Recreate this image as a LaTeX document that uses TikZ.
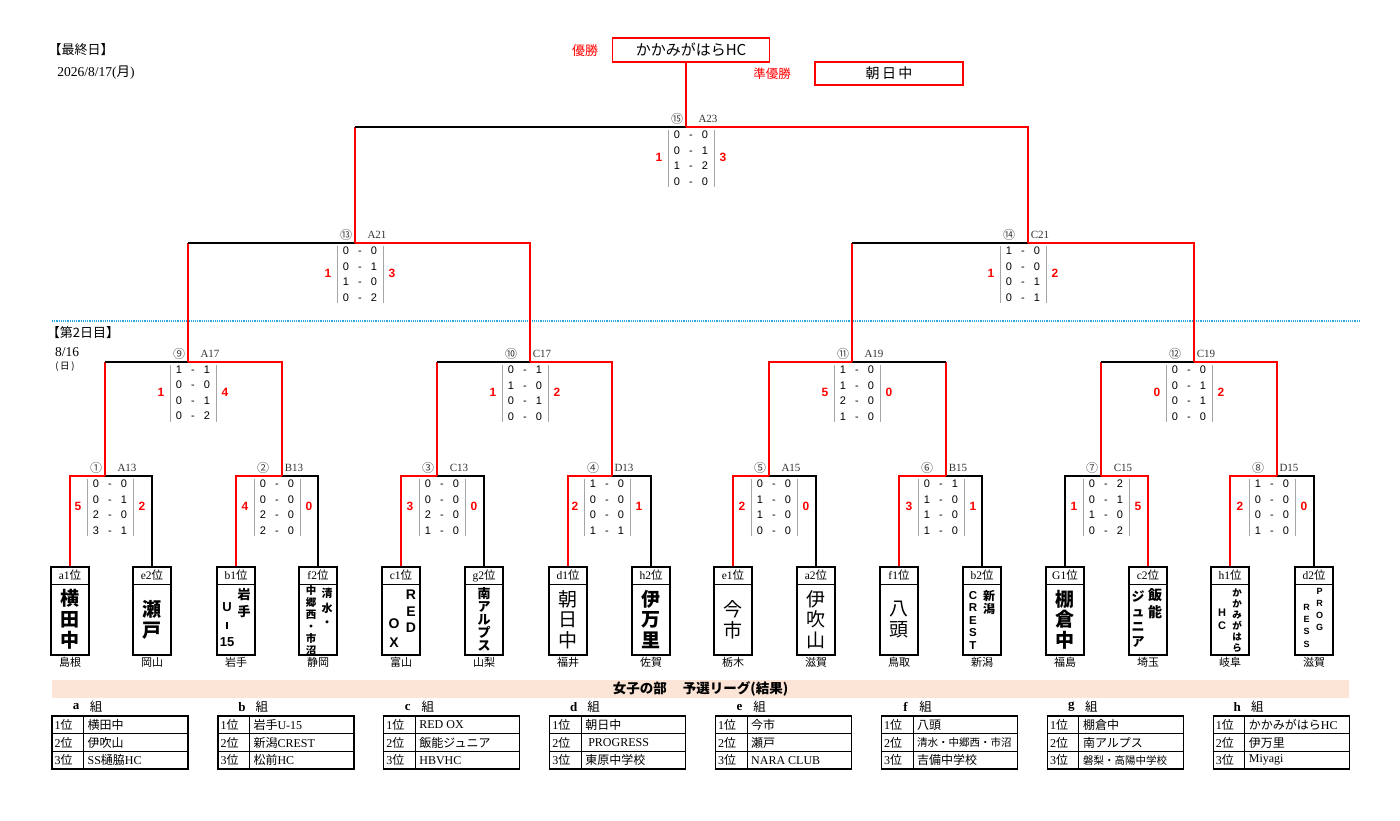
\documentclass[tikz,border=0pt]{standalone}
\usepackage{fontspec}
\setmainfont{Liberation Serif}
\setsansfont{Liberation Sans}
\newfontfamily\jp{Noto Sans CJK JP}
\usetikzlibrary{positioning}
\definecolor{r}{HTML}{FF0000}
\definecolor{day}{HTML}{2AA7E0}
\definecolor{band}{HTML}{FCE4D6}
\definecolor{rulegray}{HTML}{A6A6A6}
\newcommand\pair[2]{\makebox[8pt]{#1}\makebox[20pt]{-}\makebox[8pt]{#2}}
\newcommand\team[6]{%
  \node[teambox] (#1) at (#2,611) {};
  \node[headbox] (#1h) at (#1.north) {#3{\jp 位}};
  \node[pref] (#1p) at (#1.south) {#4};
  \node[tname,#5] (#1n) at ([shift={(0,8.5)}]#1.center) {#6};}
\tikzset{
  win/.style={draw=r,line width=1.5pt},
  lose/.style={draw=black,line width=1.5pt},
  heavy/.style={line width=2.6pt},
  teambox/.style={draw,line width=1.2pt,minimum width=38,minimum height=88,inner sep=0pt},
  headbox/.style={draw,line width=0.9pt,anchor=north,minimum width=38,minimum height=17.5,
    inner sep=0pt,font=\rmfamily\fontsize{11.5}{12}\selectfont},
  pref/.style={anchor=north,inner sep=1.5pt,font=\jp\fontsize{11}{12}\selectfont},
  tname/.style={align=center,inner sep=0pt,font=\jp\bfseries\fontsize{19}{21}\selectfont},
  col/.style={align=center,inner sep=0pt},
  scores/.style={align=center,inner sep=0pt,font=\sffamily\fontsize{11}{15.5}\selectfont},
  goals/.style={text=r,inner sep=0pt,font=\sffamily\bfseries\fontsize{12}{12}\selectfont},
  matchno/.style={inner sep=0pt,font=\jp\fontsize{12}{12}\selectfont,text=black!75},
  matchcode/.style={inner sep=0pt,font=\rmfamily\fontsize{11}{11}\selectfont,text=black!80},
  sepline/.style={draw=rulegray,line width=0.8pt},
  cupbox/.style={draw=r,line width=1.2pt,minimum width=157,minimum height=24,inner sep=0pt,
    font=\jp\fontsize{15}{15}\selectfont},
  cuplabel/.style={text=r,inner sep=0pt,font=\jp\fontsize{13}{13}\selectfont},
  grouptab/.style={draw,line width=1.2pt,minimum width=136,minimum height=53,inner sep=0pt},
  tabtext/.style={anchor=west,inner sep=0pt,font=\jp\fontsize{12}{12}\selectfont},
  dayline/.style={draw=day,line width=1.1pt,dash pattern=on 1.1pt off 1.1pt}
}

\begin{document}
\begin{tikzpicture}[x=1pt,y=-1pt,font=\jp]
  \useasboundingbox (0,0) rectangle (1400,820);

  % headings
  \node[font=\jp\fontsize{13}{13}\selectfont] (lastday) at (81,50) {【最終日】};
  \node[font=\rmfamily\fontsize{13.5}{14}\selectfont] (lastdate) at (96,73) {2026/8/17({\jp 月})};
  \node[font=\jp\fontsize{13}{13}\selectfont] (day2) at (83,333) {【第2日目】};
  \node[font=\rmfamily\fontsize{13.5}{14}\selectfont] (day2date) at (67,352) {8/16};
  \node[font=\jp\fontsize{9.5}{10}\selectfont] (day2wd) at (65,367) {(\,日\,)};
  \draw[dayline] (52,321) -- (1360,321);

  % match points
  \coordinate (m1) at (105,476);
  \coordinate (m2) at (282,476);
  \coordinate (m3) at (437,476);
  \coordinate (m4) at (612,476);
  \coordinate (m5) at (769,476);
  \coordinate (m6) at (946,476);
  \coordinate (m7) at (1101,476);
  \coordinate (m8) at (1277,476);
  \coordinate (m9) at (188,362);
  \coordinate (m10) at (530,362);
  \coordinate (m11) at (852,362);
  \coordinate (m12) at (1194,362);
  \coordinate (m13) at (355,243);
  \coordinate (m14) at (1028,243);
  \coordinate (m15) at (686,127);

  % champion
  \node[cupbox] (champ) at (691,50) {かかみがはらHC};
  \node[cuplabel] (champl) at (585,51) {優勝};
  \node[cupbox,minimum width=148,minimum height=23,font=\jp\fontsize{14}{14}\selectfont] (runner) at (889,73.5) {朝\,日\,中};
  \node[cuplabel,font=\jp\fontsize{12.5}{13}\selectfont] (runnerl) at (772,73.5) {準優勝};

  % teams
  \team{a1}{70}{a1}{島根}{}{横\\田\\中}
  \team{e2}{152}{e2}{岡山}{}{瀬\\戸}
  \team{b1}{236}{b1}{岩手}{}{}
  \team{f2}{318}{f2}{静岡}{}{}
  \team{c1}{401}{c1}{富山}{}{}
  \team{g2}{484}{g2}{山梨}{font=\jp\bfseries\fontsize{13}{13}\selectfont}{南\\ア\\ル\\プ\\ス}
  \team{d1}{568}{d1}{福井}{font=\jp\fontsize{19}{20.5}\selectfont}{朝\\日\\中}
  \team{h2}{651}{h2}{佐賀}{font=\jp\bfseries\fontsize{19}{20.5}\selectfont}{伊\\万\\里}
  \team{e1}{733}{e1}{栃木}{font=\jp\fontsize{19}{21}\selectfont}{今\\市}
  \team{a2}{816}{a2}{滋賀}{font=\jp\fontsize{19}{20.5}\selectfont}{伊\\吹\\山}
  \team{f1}{899}{f1}{鳥取}{font=\jp\fontsize{19}{21}\selectfont}{八\\頭}
  \team{b2}{982}{b2}{新潟}{}{}
  \team{g1}{1065}{G1}{福島}{font=\jp\bfseries\fontsize{19}{20.5}\selectfont}{棚\\倉\\中}
  \team{c2}{1148}{c2}{埼玉}{}{}
  \team{h1}{1230}{h1}{岐阜}{}{}
  \team{d2}{1314}{d2}{滋賀}{}{}

  % two-column names
  \node[col,font=\jp\bfseries\fontsize{13}{17}\selectfont] (b1r) at ([shift={(8,-7.5)}]b1.center) {岩\\手};
  \node[col,font=\sffamily\bfseries\fontsize{13}{17.5}\selectfont] (b1l) at ([shift={(-9,13.5)}]b1.center) {U\\\rule{1.4pt}{7pt}\\15};
  \node[col,font=\jp\bfseries\fontsize{11}{14.5}\selectfont] (f2r) at ([shift={(9,-3.5)}]f2.center) {清\\水\\・};
  \node[col,font=\jp\bfseries\fontsize{10.5}{12}\selectfont] (f2l) at ([shift={(-7,9.5)}]f2.center) {中\\郷\\西\\・\\市\\沼};
  \node[col,font=\sffamily\bfseries\fontsize{14}{16.5}\selectfont] (c1r) at ([shift={(10,0.5)}]c1.center) {R\\E\\D};
  \node[col,font=\sffamily\bfseries\fontsize{14}{19}\selectfont] (c1l) at ([shift={(-7,22.5)}]c1.center) {O\\X};
  \node[col,font=\jp\bfseries\fontsize{12}{13.5}\selectfont] (b2r) at ([shift={(7,-8.5)}]b2.center) {新\\潟};
  \node[col,font=\sffamily\bfseries\fontsize{11.5}{12.5}\selectfont] (b2l) at ([shift={(-9,9)}]b2.center) {C\\R\\E\\S\\T};
  \node[col,font=\jp\bfseries\fontsize{14}{17}\selectfont] (c2r) at ([shift={(7,-7.5)}]c2.center) {飯\\能};
  \node[col,font=\jp\bfseries\fontsize{13}{15.3}\selectfont] (c2l) at ([shift={(-10,8)}]c2.center) {ジ\\ュ\\ニ\\ア};
  \node[col,font=\jp\bfseries\fontsize{9.5}{11}\selectfont] (h1r) at ([shift={(7,9.5)}]h1.center) {か\\か\\み\\が\\は\\ら};
  \node[col,font=\sffamily\bfseries\fontsize{11}{13}\selectfont] (h1l) at ([shift={(-8,8.5)}]h1.center) {H\\C};
  \node[col,font=\sffamily\bfseries\fontsize{9}{12}\selectfont] (d2r) at ([shift={(5.5,-2)}]d2.center) {P\\R\\O\\G};
  \node[col,font=\sffamily\bfseries\fontsize{9}{12.3}\selectfont] (d2l) at ([shift={(-7.5,14.5)}]d2.center) {R\\E\\S\\S};

  % round 1
  \draw[win] (m1) -| (a1);
  \draw[lose] (m1) -| (e2);
  \draw[win] (m2) -| (b1);
  \draw[lose] (m2) -| (f2);
  \draw[win] (m3) -| (c1);
  \draw[lose] (m3) -| (g2);
  \draw[win,heavy] (m4) -| (d1);
  \draw[lose,line width=2pt] (m4) -| (h2);
  \draw[win,heavy] (m5) -| (e1);
  \draw[lose,heavy] (m5) -| (a2);
  \draw[win] (m6) -| (f1);
  \draw[lose] (m6) -| (b2);
  \draw[win,heavy] (m7) -| (c2);
  \draw[lose,heavy] (m7) -| (g1);
  \draw[win] (m8) -| (h1);
  \draw[lose] (m8) -| (d2);

  % round 2
  \draw[win] (m9) -| (m2);
  \draw[win] (m1) -- (m1 |- m9);
  \draw[lose,line width=2pt] (m9) -- (m1 |- m9);
  \draw[win] (m10) -| (m4);
  \draw[win] (m3) -- (m3 |- m10);
  \draw[lose,heavy] (m10) -- (m3 |- m10);
  \draw[win] (m11) -| (m5);
  \draw[win] (m6) -- (m6 |- m11);
  \draw[lose,line width=2pt] (m11) -- (m6 |- m11);
  \draw[win] (m12) -| (m8);
  \draw[win] (m7) -- (m7 |- m12);
  \draw[lose,line width=2pt] (m12) -- (m7 |- m12);

  % semi-finals and final
  \draw[win] (m13) -| (m10);
  \draw[win] (m9) -- (m9 |- m13);
  \draw[lose,line width=2pt] (m13) -- (m9 |- m13);
  \draw[win] (m14) -| (m12);
  \draw[win] (m11) -- (m11 |- m14);
  \draw[lose,heavy] (m14) -- (m11 |- m14);
  \draw[win,line width=2pt] (m15) -| (m14);
  \draw[win] (m13) -- (m13 |- m15);
  \draw[lose,heavy] (m15) -- (m13 |- m15);
  \draw[win] (m15) -- (m15 |- champ.south);

  % scores
  \foreach \m/\dx/\no/\cd/\rows/\gl/\gr in {
    m1/5/①/A13/{\pair00\\\pair01\\\pair20\\\pair31}/5/2,
    m2/-5/②/B13/{\pair00\\\pair00\\\pair20\\\pair20}/4/0,
    m3/5/③/C13/{\pair00\\\pair00\\\pair20\\\pair10}/3/0,
    m4/-5/④/D13/{\pair10\\\pair00\\\pair00\\\pair11}/2/1,
    m5/5/⑤/A15/{\pair00\\\pair10\\\pair10\\\pair00}/2/0,
    m6/-5/⑥/B15/{\pair01\\\pair10\\\pair10\\\pair10}/3/1,
    m7/5/⑦/C15/{\pair02\\\pair01\\\pair10\\\pair02}/1/5,
    m8/-5/⑧/D15/{\pair10\\\pair00\\\pair00\\\pair10}/2/0,
    m9/5/⑨/A17/{\pair11\\\pair00\\\pair01\\\pair02}/1/4,
    m10/-5/⑩/C17/{\pair01\\\pair10\\\pair01\\\pair00}/1/2,
    m11/5/⑪/A19/{\pair10\\\pair10\\\pair20\\\pair10}/5/0,
    m12/-5/⑫/C19/{\pair00\\\pair01\\\pair01\\\pair00}/0/2,
    m13/5/⑬/A21/{\pair00\\\pair01\\\pair10\\\pair02}/1/3,
    m14/-5/⑭/C21/{\pair10\\\pair00\\\pair01\\\pair01}/1/2,
    m15/5/⑮/A23/{\pair00\\\pair01\\\pair12\\\pair00}/1/3}
  {
    \node[scores] (s\m) at ([shift={(\dx,31)}]\m) {\rows};
    \draw[sepline] ([shift={(\dx-23,3)}]\m) -- ++(0,57);
    \draw[sepline] ([shift={(\dx+23,3)}]\m) -- ++(0,57);
    \node[goals] (l\m) at ([shift={(\dx-32,30)}]\m) {\gl};
    \node[goals] (r\m) at ([shift={(\dx+32,30)}]\m) {\gr};
    \node[matchno] (n\m) at ([shift={(\dx-14,-8)}]\m) {\no};
    \node[matchcode] (c\m) at ([shift={(\dx+17,-8)}]\m) {\cd};
  }

  % league results
  \node[fill=band,minimum width=1297,minimum height=18,inner sep=0pt,
    font=\jp\bfseries\fontsize{13.5}{14}\selectfont] (band) at (700.5,689)
    {女子の部\hspace{16pt}予選リーグ(結果)};
  \foreach \g/\p/\q/\w [count=\i from 0] in {
    a/横田中/伊吹山/{\rmfamily SS}樋脇{\rmfamily HC},
    b/岩手{\rmfamily U-15}/新潟{\rmfamily CREST}/松前{\rmfamily HC},
    c/{\rmfamily RED OX}/飯能ジュニア/{\rmfamily HBVHC},
    d/朝日中/{\rmfamily\ PROGRESS}/東原中学校,
    e/今市/瀬戸/{\rmfamily NARA CLUB},
    f/八頭/{\fontsize{10.5}{11}\selectfont 清水・中郷西・市沼}/吉備中学校,
    g/棚倉中/南アルプス/{\fontsize{10.5}{11}\selectfont 磐梨・高陽中学校},
    h/かかみがはら{\rmfamily HC}/伊万里/{\rmfamily Miyagi}}
  {
    \pgfmathsetmacro\gx{52+165.9*\i}
    \node[font=\rmfamily\bfseries\fontsize{13}{13}\selectfont] (ga\g) at (\gx+24,707) {\g};
    \node[font=\jp\fontsize{12.5}{13}\selectfont] (gk\g) at (\gx+44,707) {組};
    \node[grouptab] (tab\g) at (\gx+68,742.5) {};
    \draw[line width=0.8pt] ([shift={(0,-8.83)}]tab\g.west) -- ([shift={(0,-8.83)}]tab\g.east);
    \draw[line width=0.8pt] ([shift={(0,8.83)}]tab\g.west) -- ([shift={(0,8.83)}]tab\g.east);
    \draw[line width=0.8pt] ([shift={(32,0)}]tab\g.north west) -- ([shift={(32,0)}]tab\g.south west);
    \node[tabtext] (p1\g) at ([shift={(3,-17.67)}]tab\g.west) {{\rmfamily 1}位};
    \node[tabtext] (p2\g) at ([shift={(3,0)}]tab\g.west) {{\rmfamily 2}位};
    \node[tabtext] (p3\g) at ([shift={(3,17.67)}]tab\g.west) {{\rmfamily 3}位};
    \node[tabtext] (t1\g) at ([shift={(36,-17.67)}]tab\g.west) {\p};
    \node[tabtext] (t2\g) at ([shift={(36,0)}]tab\g.west) {\q};
    \node[tabtext] (t3\g) at ([shift={(36,17.67)}]tab\g.west) {\w};
  }
\end{tikzpicture}
\end{document}
